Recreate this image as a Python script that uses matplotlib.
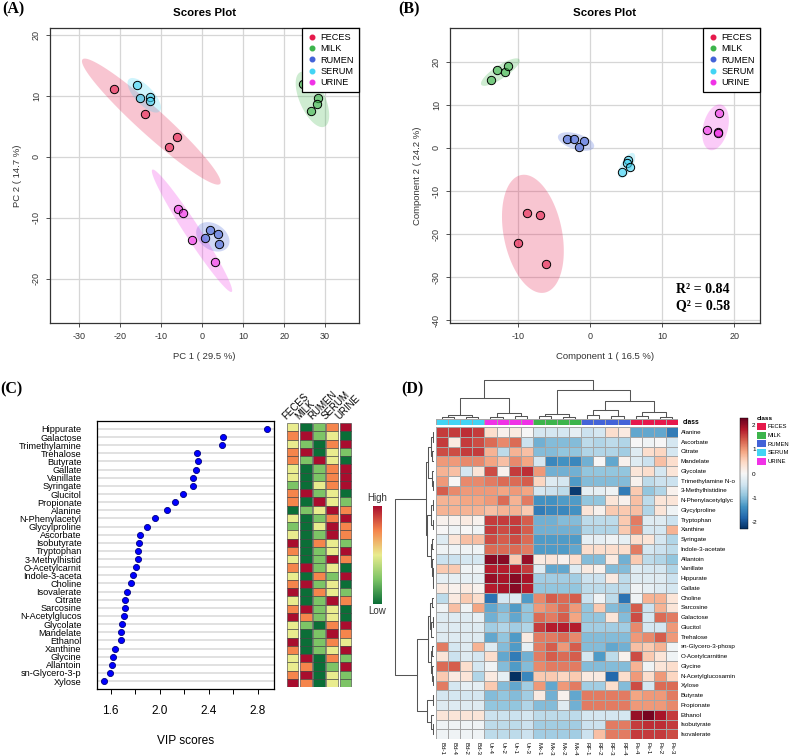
import numpy as np
import matplotlib
matplotlib.use('Agg')
import matplotlib.pyplot as plt
from matplotlib.colors import ListedColormap, LinearSegmentedColormap, to_rgba
from matplotlib.lines import Line2D
from matplotlib.patches import Patch

plt.rcParams['font.family'] = ['Liberation Sans', 'DejaVu Sans']
plt.rcParams['axes.unicode_minus'] = False

# ---------------- data ----------------
groups = ['FECES', 'MILK', 'RUMEN', 'SERUM', 'URINE']
group_colors = ['#E6194B', '#3CB44B', '#4363D8', '#42D4F4', '#F032E6']

# PCA scores (panel A), one list per group in the order of `groups`
pca_pc1 = [[-21.6, -13.9, -6.2, -8.1],
           [24.7, 28.4, 28.0, 26.6],
           [1.8, 3.9, 0.6, 4.0],
           [-15.9, -15.3, -12.8, -12.7],
           [-5.9, -4.8, -2.4, 3.1]]
pca_pc2 = [[11.1, 7.1, 3.3, 1.6],
           [11.9, 9.6, 8.7, 7.5],
           [-12.1, -12.7, -13.4, -14.4],
           [11.8, 9.6, 9.8, 9.2],
           [-8.5, -9.2, -13.6, -17.3]]

# PLS-DA scores (panel B)
pls_c1 = [[-8.8, -7.0, -10.0, -6.1],
          [-13.8, -13.0, -11.8, -11.4],
          [-3.3, -2.2, -0.9, -1.5],
          [5.3, 5.1, 5.5, 4.4],
          [17.9, 16.3, 17.7, 17.8]]
pls_c2 = [[-15.2, -15.6, -22.0, -26.9],
          [15.8, 18.0, 17.6, 18.9],
          [2.0, 2.1, 1.6, 0.2],
          [-2.9, -3.4, -4.5, -5.6],
          [8.0, 4.1, 3.6, 3.4]]

# VIP scores (panel C)
vip_names = ['Hippurate', 'Galactose', 'Trimethylamine', 'Trehalose', 'Butyrate',
             'Gallate', 'Vanillate', 'Syringate', 'Glucitol', 'Propionate', 'Alanine',
             'N-Phenylacetyl', 'Glycylproline', 'Ascorbate', 'Isobutyrate', 'Tryptophan',
             '3-Methylhistid', 'O-Acetylcarnit', 'Indole-3-aceta', 'Choline',
             'Isovalerate', 'Citrate', 'Sarcosine', 'N-Acetylglucos', 'Glycolate',
             'Mandelate', 'Ethanol', 'Xanthine', 'Glycine', 'Allantoin',
             'sn-Glycero-3-p', 'Xylose']
vip_scores = [2.876, 2.513, 2.508, 2.305, 2.308, 2.295, 2.27, 2.27, 2.19, 2.127,
              2.06, 1.965, 1.90, 1.843, 1.835, 1.824, 1.824, 1.805, 1.781, 1.77,
              1.738, 1.719, 1.714, 1.708, 1.692, 1.686, 1.684, 1.635, 1.619,
              1.608, 1.597, 1.549]
# relative level per group (1 = low ... 5 = high), columns FECES MILK RUMEN SERUM URINE
vip_levels = ['31245', '45231', '32145', '45132', '42531', '31245', '31245', '21345',
              '45231', '41532', '12354', '31245', '21354', '31254', '51432', '41235',
              '31254', '45231', '31425', '45231', '51432', '31254', '45231', '54231',
              '32145', '31254', '51243', '41235', '35142', '34125', '45132', '54132']
level_colors = ['#0B6E37', '#7DC466', '#E9EC8E', '#F5854C', '#A90D2E']

# heatmap (panel D)
hm_cols = ['Bd-1', 'Bd-4', 'Bd-2', 'Bd-3', 'Ur-4', 'Ur-2', 'Ur-1', 'Ur-3',
           'Mk-1', 'Mk-3', 'Mk-2', 'Mk-4', 'RF-1', 'RF-2', 'RF-3', 'RF-4',
           'Fs-4', 'Fs-1', 'Fs-2', 'Fs-3']
hm_class = [3, 3, 3, 3, 4, 4, 4, 4, 1, 1, 1, 1, 2, 2, 2, 2, 0, 0, 0, 0]
hm_rows = ['Alanine', 'Ascorbate', 'Citrate', 'Mandelate', 'Glycolate',
           'Trimethylamine N-o', '3-Methylhistidine', 'N-Phenylacetylglyc',
           'Glycylproline', 'Tryptophan', 'Xanthine', 'Syringate', 'Indole-3-acetate',
           'Allantoin', 'Vanillate', 'Hippurate', 'Gallate', 'Choline', 'Sarcosine',
           'Galactose', 'Glucitol', 'Trehalose', 'sn-Glycero-3-phosp',
           'O-Acetylcarnitine', 'Glycine', 'N-Acetylglucosamin', 'Xylose', 'Butyrate',
           'Propionate', 'Ethanol', 'Isobutyrate', 'Isovalerate']
hm_values = [
    [1.6, 1.6, 1.7, 1.6, 0.4, 0.1, 0.2, 0.0, -0.4, -0.4, -0.4, -0.2, -0.5, -0.4, 0.4, 0.2, -1.2, -1.2, -1.2, -1.6],
    [1.6, 0.2, 1.6, 1.5, 1.3, 1.1, 1.3, -0.5, -1.1, -1.0, -1.0, -1.0, -0.6, -0.7, -0.6, -0.7, 0.0, -0.1, 0.0, -0.4],
    [1.5, 1.5, 1.6, 1.6, 0.8, -0.6, 0.8, 0.7, -1.0, -1.0, -0.9, -0.9, -0.7, -0.7, -0.7, -0.8, -0.3, 0.4, 0.5, -0.4],
    [1.0, 1.0, 1.1, 1.1, 0.9, 0.7, 1.1, 0.9, -0.4, -1.5, -1.4, -1.5, -1.1, 0.0, -1.2, 0.1, -0.3, -0.5, 0.7, 0.4],
    [0.8, 0.7, -0.4, 0.3, 1.5, 0.1, 1.6, 1.7, 1.0, -1.1, -1.1, -1.1, -0.9, -0.9, -0.9, -0.9, 0.3, 0.4, -0.4, 0.3],
    [1.0, 0.0, 1.1, 1.1, 1.2, 1.3, 1.3, 1.4, 0.5, -0.3, -0.4, -1.3, -1.0, -1.0, -1.0, -1.0, 0.1, -0.6, -0.5, -0.5],
    [1.4, 1.1, 1.0, 1.0, 1.0, 0.9, 1.0, 0.9, -0.4, -0.5, -0.6, -2.2, -0.2, -0.2, -0.1, -1.6, 0.6, -0.9, -0.7, 0.1],
    [0.8, 0.8, 0.9, 0.9, 1.0, 1.3, 0.8, 1.2, -1.4, -1.4, -1.3, -1.3, -0.9, -0.9, 0.3, 0.1, 0.7, -0.6, 0.3, 0.3],
    [0.8, 0.8, 0.8, 0.8, 0.7, 0.8, 0.8, 0.6, -1.6, -1.5, -1.5, -1.4, 0.3, 0.1, 0.6, 0.6, 0.7, -0.7, 0.3, -0.1],
    [0.1, 0.1, 0.2, 0.1, 1.6, 1.6, 1.6, 1.4, -1.1, -1.1, -1.0, -1.0, -0.6, -0.6, -0.6, 0.6, 1.2, -0.3, -0.3, -0.5],
    [0.0, -0.1, 0.0, -0.1, 1.6, 1.5, 1.6, 1.4, -1.1, -1.1, -1.1, -1.1, -0.7, -0.7, -0.7, 0.6, 1.1, -0.4, -0.4, 0.8],
    [-0.3, 0.3, 0.7, 0.7, 1.5, 1.4, 1.5, 1.3, -1.3, -1.3, -1.3, -1.3, -0.2, -0.2, -0.1, -0.2, 0.4, 0.3, -0.4, -0.7],
    [-0.1, -0.1, -0.1, -0.1, 1.3, 1.3, 1.3, 1.2, -1.3, -1.3, -1.3, -1.2, 0.4, 0.4, 0.4, 0.4, 1.2, -0.4, -0.5, -0.6],
    [-0.5, -0.5, -0.4, -0.4, 2.1, 2.1, 0.6, 2.0, 0.2, 0.3, 0.1, 0.4, -1.0, -1.0, 0.2, -1.1, 0.6, -0.6, -0.7, -0.9],
    [0.6, 0.6, -0.1, -0.1, 1.8, 1.8, 1.8, 1.6, -0.3, -1.2, -1.2, -0.3, 0.2, 0.1, -1.0, -1.0, -0.3, -0.4, -0.4, -0.7],
    [-0.2, -0.2, -0.2, -0.2, 2.0, 1.9, 2.1, 1.9, -0.8, -0.8, -0.8, -0.8, -0.5, -0.5, 0.2, -0.6, -0.3, -0.3, -0.3, -0.5],
    [0.2, 0.1, 0.2, 0.1, 1.8, 1.9, 2.1, 1.8, -0.9, -0.9, -0.9, -0.9, -0.6, -0.6, -0.6, -0.6, -0.1, -0.2, -0.3, -0.4],
    [-0.6, 0.2, 0.6, 0.4, -1.7, -0.4, -0.3, -1.3, 1.1, 1.4, 1.3, 1.4, -0.5, -0.1, -0.6, -1.7, -0.1, 0.8, 0.8, 0.3],
    [-0.1, 0.7, -0.1, 0.9, -1.2, -1.0, -1.3, -0.9, 1.0, 1.1, 1.3, 1.0, -0.9, 0.6, -1.0, -1.1, 1.4, -0.5, 0.8, 0.3],
    [-0.3, -0.3, -0.3, -0.2, -1.1, -0.9, -1.2, -0.9, 1.3, 1.2, 1.4, 0.9, -0.9, -0.9, 0.3, -1.0, 1.5, -0.4, 1.3, 1.2],
    [-0.3, -0.3, -0.3, -0.3, -0.8, -0.7, -0.8, -0.7, 1.6, 1.8, 1.8, 1.8, -0.8, -0.8, -0.8, -0.8, 1.1, -0.4, -0.4, 1.0],
    [-0.3, -0.3, -0.3, -0.3, -1.2, -0.9, -1.3, 0.2, 1.2, 1.2, 1.3, 1.1, -1.0, -1.0, -1.0, -1.0, 1.0, 1.1, 1.4, 1.0],
    [1.2, -0.4, -0.3, 0.8, -0.3, -1.0, -1.3, -0.2, 1.2, 1.4, 1.0, 1.4, -1.0, -1.0, -1.2, -1.1, 0.7, 0.6, 0.8, -0.1],
    [0.3, -0.5, -0.3, -0.4, 0.4, -1.2, -1.6, -1.1, 1.2, 1.4, 1.3, 1.4, -0.4, -1.3, -0.6, 0.1, 1.5, 0.6, 0.3, -0.1],
    [1.3, 1.4, 0.4, -0.4, -0.1, -1.0, -1.3, -1.0, 1.1, 1.2, 1.2, 1.2, -1.0, -1.0, -1.0, -1.0, 0.8, -0.1, 0.3, 0.4],
    [0.6, 0.2, 0.3, -0.7, 0.2, -0.2, -2.3, -1.5, 0.6, 0.6, 0.5, 0.6, 0.2, 0.2, -1.8, 0.4, 1.0, 0.4, 1.0, 0.5],
    [1.2, -0.4, -0.2, -0.2, 0.6, -1.0, -1.2, -0.8, 1.0, -1.2, 1.0, 1.2, -0.8, -0.8, 0.4, -1.0, 1.5, -0.4, 1.3, 1.3],
    [-0.4, -0.4, -0.4, -0.4, -1.0, -0.9, -1.0, -0.8, 0.2, -1.1, 0.1, -1.2, 1.2, 1.2, 1.2, 1.2, 0.9, 1.0, 1.0, 1.2],
    [-0.3, -0.3, -0.3, -0.3, -0.9, -0.9, -0.9, -0.7, -1.0, -1.0, -0.3, -1.1, 1.2, 1.2, 1.2, 1.2, 1.0, 1.0, 1.0, 1.1],
    [0.3, 0.3, 0.3, 0.3, -0.5, -0.5, -0.5, -0.4, -0.6, -0.6, -0.6, -0.6, -0.4, -0.4, -0.4, -0.4, 2.0, 2.2, 1.9, 1.6],
    [-0.1, -0.1, -0.1, -0.1, -0.6, -0.6, -0.6, -0.5, -0.8, -0.8, -0.8, -0.8, -0.5, -0.5, 1.2, 1.2, 1.6, 1.7, 1.7, 1.6],
    [-0.1, -0.1, -0.1, -0.1, -0.6, -0.6, -0.6, -0.5, -0.8, -0.8, -0.8, -0.8, -0.5, 0.7, 1.2, 1.2, 1.6, 1.6, 1.6, 1.5],
]
# dendrograms as (merge height, left, right); leaves are display positions
col_tree = (38.3, (20, (3, (1.5, 0, 1), (1.0, 2, 3)), (5, (1.5, 4, 5), (2.5, 6, 7))),
            (28, (4, (2, 8, 9), (1.5, 10, 11)),
             (17, (8, (3, 12, 13), (2, 14, 15)), (6.3, (2.5, 16, 17), (1.5, 18, 19)))))
row_tree = (39, (8, (6, (3, (1.5, 0, 1), (2, 2, 3)), (2.5, 4, (1.5, 5, 6))),
                 (7, (3, (1.5, 7, 8), (1.2, 9, 10)),
                  (3.5, (2, 11, 12), (2.5, 13, (1.5, 14, (0.8, 15, 16)))))),
            (17, (6.5, (4, (2, 17, 18), (3, (1, 19, 20), 21)),
                  (3.5, (2, 22, 23), (2.5, 24, (1.5, 25, 26)))),
             (7, (1.5, 27, 28), (3, 29, (1.5, 30, 31)))))

# ---------------- figure ----------------
W, H = 792, 756
fig = plt.figure(figsize=(W / 100, H / 100), dpi=100)


def box(x0, y0, x1, y1):
    return fig.add_axes([x0 / W, 1 - y1 / H, (x1 - x0) / W, (y1 - y0) / H])


def conf_ellipse(ax, x, y, color):
    x = np.asarray(x)
    y = np.asarray(y)
    vals, vecs = np.linalg.eigh(np.cov(x, y))
    t = np.linspace(0, 2 * np.pi, 120)
    circ = np.vstack([np.cos(t), np.sin(t)]) * np.sqrt(vals)[:, None] * 2.4477
    pts = vecs @ circ
    ax.fill(pts[0] + x.mean(), pts[1] + y.mean(), color=color, alpha=0.25, lw=0, zorder=1)


def scores_panel(ax, xs, ys, xlim, ylim, xticks, yticks, xlabel, ylabel):
    for x, y, c in zip(xs, ys, group_colors):
        conf_ellipse(ax, x, y, c)
        ax.scatter(x, y, s=36, facecolor=to_rgba(c, 0.6), edgecolor='black',
                   linewidth=0.7, zorder=3)
    ax.set_xlim(*xlim)
    ax.set_ylim(*ylim)
    ax.set_xticks(xticks)
    ax.set_yticks(yticks)
    ax.grid(True, color='#D6D6D6', lw=0.9)
    ax.set_axisbelow(True)
    ax.tick_params(labelsize=6.5, length=3, width=0.6, colors='#333333')
    ax.tick_params(axis='y', labelrotation=90)
    for lab in ax.get_yticklabels():
        lab.set_va('center')
    for sp in ax.spines.values():
        sp.set_color('#333333')
        sp.set_linewidth(0.9)
    ax.set_xlabel(xlabel, fontsize=6.8, color='#333333', labelpad=8)
    ax.set_ylabel(ylabel, fontsize=6.8, color='#333333', labelpad=7)
    ax.set_title('Scores Plot', fontsize=8.2, fontweight='bold', pad=9)
    handles = [Line2D([], [], marker='o', ls='', color=c, markersize=3.3) for c in group_colors]
    leg = ax.legend(handles, groups, loc='upper right', fontsize=6.6, frameon=True,
                    fancybox=False, edgecolor='black', framealpha=1, borderaxespad=0,
                    handletextpad=0.3, labelspacing=0.25, borderpad=0.55, handlelength=1.2)
    leg.get_frame().set_linewidth(0.9)
    leg.set_zorder(5)


# Panel A
axa = box(50, 28, 359, 323)
scores_panel(axa, pca_pc1, pca_pc2, (-37.2, 38.3), (-27.3, 21.15),
             [-30, -20, -10, 0, 10, 20, 30], [-20, -10, 0, 10, 20],
             'PC 1 ( 29.5 %)', 'PC 2 ( 14.7 %)')

# Panel B
axb = box(450, 28, 760, 323)
scores_panel(axb, pls_c1, pls_c2, (-19.5, 23.6), (-40.6, 27.8),
             [-10, 0, 10, 20], [-40, -30, -20, -10, 0, 10, 20],
             'Component 1 ( 16.5 %)', 'Component 2 ( 24.2 %)')
axb.text(0.816, 0.112, 'R² = 0.84', transform=axb.transAxes, ha='center', va='center',
         fontsize=10, fontweight='bold', family='Liberation Serif')
axb.text(0.816, 0.058, 'Q² = 0.58', transform=axb.transAxes, ha='center', va='center',
         fontsize=10, fontweight='bold', family='Liberation Serif')

# Panel C: VIP dot chart
rows = np.arange(1, len(vip_names) + 1)
axc = box(97, 421, 274, 689)
axc.hlines(rows, 1.49, 2.93, color='#DCDCDC', lw=1.2, zorder=1)
axc.plot(vip_scores, rows, 'o', mfc='#0000FF', mec='#000080', ms=4.4, mew=0.6, zorder=3)
axc.set_xlim(1.49, 2.93)
axc.set_ylim(32.98, 0.02)
axc.set_yticks(rows, vip_names, fontsize=6.6)
axc.tick_params(axis='y', length=0, pad=11)
xt = [1.6, 1.8, 2.0, 2.2, 2.4, 2.6, 2.8]
axc.set_xticks(xt, ['1.6', '', '2.0', '', '2.4', '', '2.8'], fontsize=8.5)
axc.tick_params(axis='x', length=3.5, width=0.7, pad=8)
axc.set_xlabel('VIP scores', fontsize=8.6, labelpad=13)
for sp in axc.spines.values():
    sp.set_linewidth(0.9)

# Panel C: group level boxes
axh = box(286, 423, 352, 687)
for j, g in enumerate(groups):
    cols = [level_colors[int(s[j]) - 1] for s in vip_levels]
    axh.barh(np.arange(len(vip_levels)), 0.88, left=j + 0.06, height=1.0, color=cols,
             edgecolor='#3A3A3A', linewidth=0.4)
    axh.text(j + 0.12, -0.7, g, rotation=45, ha='left', va='bottom',
             rotation_mode='anchor', fontsize=7, clip_on=False)
axh.set_xlim(0, 5)
axh.set_ylim(len(vip_levels) - 0.5, -0.5)
axh.axis('off')

axk = box(373, 506, 382, 604)
level_cmap = LinearSegmentedColormap.from_list('lvl', level_colors)
axk.imshow(np.linspace(1, 0, 256)[:, None], aspect='auto', cmap=level_cmap)
axk.set_xticks([])
axk.set_yticks([])
for sp in axk.spines.values():
    sp.set_visible(False)
fig.text(377 / W, 1 - 498 / H, 'High', ha='center', va='center', fontsize=7, color='#333333')
fig.text(377 / W, 1 - 611 / H, 'Low', ha='center', va='center', fontsize=7, color='#333333')


# Panel D: clustered heatmap
def draw_tree(ax, node, side):
    if isinstance(node, int):
        return node + 0.5, 0.0
    h, left, right = node
    c1, h1 = draw_tree(ax, left, side)
    c2, h2 = draw_tree(ax, right, side)
    if side == 'top':
        ax.plot([c1, c1, c2, c2], [h1, h, h, h2], color='#555555', lw=0.75)
    else:
        ax.plot([h1, h, h, h2], [c1, c1, c2, c2], color='#555555', lw=0.75)
    return (c1 + c2) / 2, h


vals = np.array(hm_values)
axd = box(436, 427, 678, 739)
mesh = axd.pcolormesh(np.arange(len(hm_cols) + 1), np.arange(len(hm_rows) + 1), vals,
                      cmap='RdBu_r', vmin=-2.3, vmax=2.3, edgecolors='#A6A6A6', linewidth=0.4)
axd.set_xlim(0, len(hm_cols))
axd.set_ylim(len(hm_rows), 0)
axd.yaxis.tick_right()
axd.set_yticks(np.arange(len(hm_rows)) + 0.5, hm_rows, fontsize=4.5)
axd.set_xticks(np.arange(len(hm_cols)) + 0.5, hm_cols, fontsize=4.4, rotation=-90)
axd.tick_params(length=0, pad=2)
for sp in axd.spines.values():
    sp.set_visible(False)

axcls = box(436, 419, 678, 425.5)
axcls.pcolormesh(np.arange(len(hm_cols) + 1), [0, 1], np.array([hm_class]),
                 cmap=ListedColormap(group_colors), vmin=-0.5, vmax=4.5,
                 edgecolors='#A6A6A6', linewidth=0.4)
axcls.set_xlim(0, len(hm_cols))
axcls.axis('off')
fig.text(683 / W, 1 - 422 / H, 'class', fontsize=4.8, fontweight='bold', va='center')

axtop = box(436, 378, 678, 418.5)
draw_tree(axtop, col_tree, 'top')
axtop.set_xlim(0, len(hm_cols))
axtop.set_ylim(0, 40)
axtop.axis('off')

axleft = box(393, 427, 434, 739)
draw_tree(axleft, row_tree, 'left')
axleft.set_xlim(41, 0)
axleft.set_ylim(len(hm_rows), 0)
axleft.axis('off')

cax = box(740, 418, 748, 529)
cb = fig.colorbar(mesh, cax=cax, ticks=[-2, -1, 0, 1, 2])
cb.ax.tick_params(labelsize=4.6, length=0, pad=3)
cb.outline.set_linewidth(0.3)

fig.legend([Patch(facecolor=c, edgecolor='none') for c in group_colors], groups,
           title='class', loc='upper left', bbox_to_anchor=(756 / W, 1 - 415 / H),
           frameon=False, fontsize=4.2, title_fontproperties={'weight': 'bold', 'size': 4.6},
           handlelength=1.5, handleheight=1.45, handletextpad=0.3, labelspacing=0.3,
           alignment='left', borderaxespad=0, borderpad=0.2)

# panel letters
for txt, x, y in [('(A)', 2, 1), ('(B)', 398, 1), ('(C)', 0, 381), ('(D)', 401, 381)]:
    fig.text(x / W, 1 - y / H, txt, ha='left', va='top', fontsize=11.5,
             fontweight='bold', family='Liberation Serif')

fig.savefig('out.png', dpi=100)
